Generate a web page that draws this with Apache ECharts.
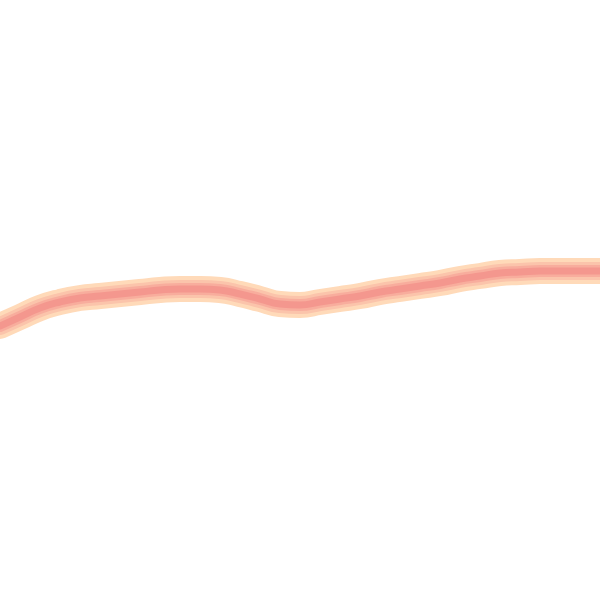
<!DOCTYPE html>
<html><head><meta charset="utf-8">
<script src="https://cdn.jsdelivr.net/npm/echarts@6/dist/echarts.min.js"></script>
<style>html,body{margin:0;padding:0;background:#fff}#c{width:600px;height:600px}</style>
</head><body><div id="c"></div>
<script>
var categories = [];
for (var i = 0; i <= 30; i++) categories.push(String(i));
var values = [274, 283, 292, 298, 302, 304, 306, 308, 310, 311, 311, 310, 306, 301, 296, 295, 298, 301, 304, 308, 311, 314, 317, 321, 324, 327, 328, 329, 329, 329, 329];
var layers = [
  {color: '#FFDAB9', width: 26},
  {color: '#FBC4AB', width: 18},
  {color: '#F8AD9D', width: 12},
  {color: '#F4978E', width: 7}
];
var chart = echarts.init(document.getElementById('c'));
chart.setOption({
  animation: false,
  grid: {left: 0, right: 0, top: 0, bottom: 0},
  xAxis: {type: 'category', data: categories, boundaryGap: false, show: false},
  yAxis: {type: 'value', min: 0, max: 600, show: false},
  series: layers.map(function (l) {
    return {type: 'line', data: values, smooth: true, symbol: 'none',
      lineStyle: {color: l.color, width: l.width, cap: 'round'}};
  })
});
</script></body></html>
